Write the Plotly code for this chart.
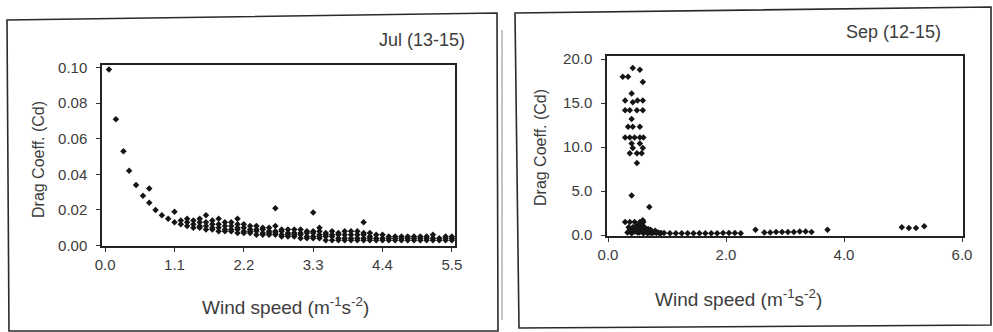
import plotly.graph_objects as go

# ---------------- Data: July (13-15) ----------------
jul_x_head = [0.06, 0.17, 0.29, 0.38, 0.49, 0.60, 0.70, 0.70, 0.80, 0.90, 1.00, 1.10, 1.10]
jul_y_head = [0.099, 0.071, 0.053, 0.042, 0.034, 0.028, 0.032, 0.024, 0.020, 0.017, 0.015, 0.019, 0.013]

jul_col_x = [1.2, 1.3, 1.4, 1.5, 1.6, 1.7, 1.8, 1.9, 2.0, 2.1, 2.2, 2.3, 2.4, 2.5, 2.6, 2.7,
             2.8, 2.9, 3.0, 3.1, 3.2, 3.3, 3.4, 3.5, 3.6, 3.7, 3.8, 3.9, 4.0, 4.1, 4.2, 4.3,
             4.4, 4.5, 4.6, 4.7, 4.8, 4.9, 5.0, 5.1, 5.2, 5.3, 5.4, 5.5]
jul_col_y = [
    [0.012, 0.014],
    [0.011, 0.013, 0.015],
    [0.010, 0.012, 0.014],
    [0.010, 0.011, 0.013, 0.015],
    [0.009, 0.011, 0.013, 0.017],
    [0.009, 0.010, 0.012, 0.014],
    [0.008, 0.010, 0.012, 0.015],
    [0.008, 0.009, 0.011, 0.013],
    [0.008, 0.009, 0.011, 0.013],
    [0.007, 0.009, 0.010, 0.012, 0.015],
    [0.007, 0.008, 0.010, 0.012],
    [0.007, 0.008, 0.009, 0.011],
    [0.006, 0.008, 0.009, 0.011],
    [0.006, 0.007, 0.009, 0.010],
    [0.006, 0.007, 0.008, 0.010],
    [0.006, 0.007, 0.008, 0.011, 0.021],
    [0.005, 0.006, 0.008, 0.009],
    [0.005, 0.006, 0.007, 0.009],
    [0.005, 0.006, 0.007, 0.009],
    [0.004, 0.006, 0.007, 0.009],
    [0.004, 0.005, 0.007, 0.008],
    [0.004, 0.005, 0.007, 0.008, 0.0185],
    [0.004, 0.005, 0.006, 0.008, 0.010],
    [0.003, 0.005, 0.006, 0.007],
    [0.003, 0.005, 0.006, 0.008],
    [0.003, 0.004, 0.006, 0.007],
    [0.003, 0.004, 0.006, 0.008],
    [0.003, 0.004, 0.006, 0.008],
    [0.003, 0.004, 0.006, 0.008],
    [0.003, 0.004, 0.006, 0.007, 0.013],
    [0.003, 0.004, 0.005, 0.007],
    [0.003, 0.004, 0.006],
    [0.003, 0.004, 0.006],
    [0.003, 0.004, 0.005],
    [0.003, 0.004, 0.005],
    [0.003, 0.004, 0.005],
    [0.003, 0.004, 0.005],
    [0.003, 0.004, 0.005],
    [0.003, 0.004, 0.005],
    [0.003, 0.004, 0.005],
    [0.003, 0.004, 0.006],
    [0.003, 0.004],
    [0.003, 0.004, 0.005],
    [0.003, 0.004, 0.005],
]
jul_xticks = [0.0, 1.1, 2.2, 3.3, 4.4, 5.5]
jul_yticks = [0.00, 0.02, 0.04, 0.06, 0.08, 0.10]

# ---------------- Data: September (12-15) ----------------
sep_x = [0.42, 0.54, 0.25, 0.34, 0.59, 0.40, 0.29, 0.42, 0.50, 0.59, 0.29, 0.37, 0.49, 0.59,
         0.40, 0.34, 0.42, 0.54, 0.29, 0.37, 0.45, 0.54, 0.60, 0.40, 0.54, 0.42, 0.59, 0.37,
         0.49, 0.57, 0.49, 0.40, 0.70, 0.59, 0.29, 0.37, 0.45, 0.54, 0.60,
         0.33, 0.35, 0.38, 0.40, 0.42, 0.45, 0.45, 0.48, 0.50, 0.50, 0.52, 0.55, 0.55, 0.57,
         0.60, 0.60, 0.62, 0.65, 0.68, 0.70, 0.72, 0.75, 0.78, 0.80, 0.85, 0.90,
         0.36, 0.43, 0.47, 0.53, 0.58, 0.63, 0.67, 0.74, 0.82, 0.88,
         0.95, 1.05, 1.15, 1.25, 1.35, 1.45, 1.55, 1.65, 1.75, 1.85, 1.95, 2.05, 2.15, 2.25,
         2.50, 2.65, 2.75, 2.85, 2.95, 3.05, 3.15, 3.25, 3.35, 3.45, 3.72, 4.98, 5.10, 5.22, 5.36]
sep_y = [19.0, 18.8, 18.0, 18.0, 17.4, 16.1, 15.3, 15.1, 15.3, 15.3, 14.2, 14.2, 14.2, 14.2,
         13.2, 12.3, 12.3, 12.3, 11.1, 11.1, 11.1, 11.1, 11.1, 10.4, 10.4, 9.9, 9.9, 9.3,
         9.3, 9.3, 8.2, 4.5, 3.2, 1.7, 1.5, 1.5, 1.5, 1.5, 1.5,
         0.3, 0.9, 0.6, 0.2, 0.9, 0.4, 0.7, 0.8, 1.1, 0.3, 0.5, 0.9, 0.6, 1.2,
         0.6, 0.2, 0.9, 0.4, 0.7, 0.3, 0.6, 0.4, 0.3, 0.5, 0.3, 0.25,
         0.5, 0.4, 1.0, 0.3, 0.4, 0.5, 0.2, 0.2, 0.25, 0.2,
         0.25, 0.2, 0.2, 0.2, 0.2, 0.2, 0.2, 0.2, 0.2, 0.2, 0.25, 0.25, 0.25, 0.2,
         0.6, 0.3, 0.3, 0.35, 0.35, 0.35, 0.35, 0.4, 0.4, 0.35, 0.6, 0.9, 0.8, 0.8, 1.0]
sep_xticks = [0.0, 2.0, 4.0, 6.0]
sep_yticks = [0.0, 5.0, 10.0, 15.0, 20.0]

# ---------------- Build figure ----------------
W, H = 993, 332
FONT = "Arial, 'Liberation Sans', sans-serif"
TXT = "#3c3c3c"

jul_x = list(jul_x_head)
jul_y = list(jul_y_head)
for cx, ys in zip(jul_col_x, jul_col_y):
    for v in ys:
        jul_x.append(cx)
        jul_y.append(v)

fig = go.Figure()
marker = dict(symbol="diamond", size=5, color="#151515")
fig.add_trace(go.Scatter(x=jul_x, y=jul_y, mode="markers", marker=marker,
                         xaxis="x", yaxis="y", showlegend=False))
fig.add_trace(go.Scatter(x=sep_x, y=sep_y, mode="markers", marker=marker,
                         xaxis="x2", yaxis="y2", showlegend=False))

def px(x):
    return x / W

def py(y):
    return 1 - y / H

axis_common = dict(showgrid=False, zeroline=False, showline=True, linecolor="#222",
                   linewidth=1.5, mirror=True, ticks="outside", ticklen=4,
                   tickcolor="#333", automargin=False,
                   tickfont=dict(family=FONT, size=15, color=TXT))

fig.update_layout(
    width=W, height=H, margin=dict(l=0, r=0, t=0, b=0, pad=0, autoexpand=False),
    paper_bgcolor="white", plot_bgcolor="white",
    xaxis=dict(domain=[px(102), px(455)], range=[-0.05, 5.55], tickvals=jul_xticks,
               ticktext=[f"{v:.1f}" for v in jul_xticks], anchor="y", **axis_common),
    yaxis=dict(domain=[py(246), py(65)], range=[-0.0003, 0.1015], tickvals=jul_yticks,
               ticktext=[f"{v:.2f}" for v in jul_yticks], anchor="x",
               ticklabelstandoff=6, **axis_common),
    xaxis2=dict(domain=[px(607), px(963)], range=[-0.017, 6.017], tickvals=sep_xticks,
                ticktext=[f"{v:.1f}" for v in sep_xticks], anchor="y2", **axis_common),
    yaxis2=dict(domain=[py(236), py(56)], range=[-0.1, 20.35], tickvals=sep_yticks,
                ticktext=[f"{v:.1f}" for v in sep_yticks], anchor="x2",
                ticklabelstandoff=6, **axis_common),
)

def ann(text, x, y, size, angle=0, xanchor="center"):
    fig.add_annotation(text=text, x=px(x), y=py(y), xref="paper", yref="paper",
                       showarrow=False, textangle=angle, xanchor=xanchor, yanchor="middle",
                       font=dict(family=FONT, size=size, color=TXT))

ann("Jul (13-15)", 467, 40, 18, xanchor="right")
ann("Wind speed (m<sup>-1</sup>s<sup>-2</sup>)", 285, 306, 19)
ann("Drag Coeff. (Cd)", 38, 160, 16, angle=-90)

ann("Sep (12-15)", 943, 32, 18, xanchor="right")
ann("Wind speed (m<sup>-1</sup>s<sup>-2</sup>)", 738, 298, 19)
ann("Drag Coeff. (Cd)", 540, 148, 16, angle=-90)

def frame(pts, color="#2a2a2a", width=1.6):
    path = "M " + " L ".join(f"{px(x):.5f},{py(y):.5f}" for x, y in pts) + " Z"
    fig.add_shape(type="path", path=path, xref="paper", yref="paper",
                  line=dict(color=color, width=width))

frame([(7, 20), (497, 13), (498, 331), (9, 331)])
frame([(515, 13), (991, 7), (991, 325), (519, 328)])
fig.add_shape(type="line", x0=px(502), x1=px(502), y0=py(30), y1=py(320),
              xref="paper", yref="paper", line=dict(color="#888", width=1))

fig.write_html("out.html", config={"displayModeBar": False},
               post_script="document.body.style.margin='0';document.body.style.overflow='hidden';")
